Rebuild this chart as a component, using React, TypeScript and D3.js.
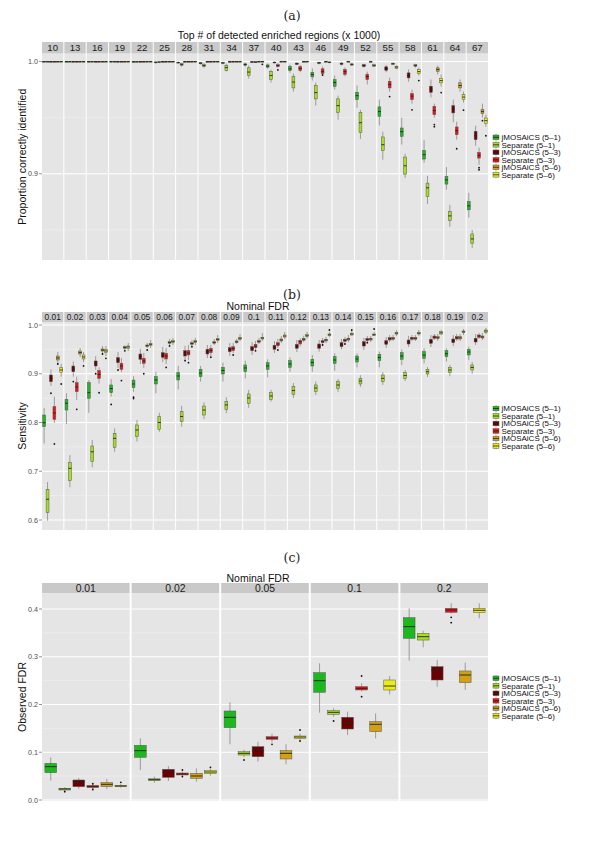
import React from "react";
import * as d3 from "d3";

// ---------- shared ----------
const SERIES = ["jMOSAiCS (5–1)", "Separate (5–1)", "jMOSAiCS (5–3)", "Separate (5–3)", "jMOSAiCS (5–6)", "Separate (5–6)"];
const COLORS = ["#1db81d", "#a6df1c", "#6b0000", "#ee1111", "#d1a014", "#ecec14"];

// ---------- panel (a): stats [lower whisker, q1, median, q3, upper whisker] ----------
const A_FACETS = ["10", "13", "16", "19", "22", "25", "28", "31", "34", "37", "40", "43", "46", "49", "52", "55", "58", "61", "64", "67"];
const ONE = [0.9995, 1, 1, 1, 1];
const A_JM51 = [ONE, ONE, ONE, [0.9993, 0.9998, 1, 1, 1], [0.999, 0.9996, 0.9998, 1, 1], [0.998, 0.999, 0.9993, 0.9996, 1],
  [0.9978, 0.9987, 0.999, 0.9994, 1], [0.9972, 0.998, 0.9985, 0.999, 0.9996], [0.9975, 0.9983, 0.9988, 0.9992, 0.9998],
  [0.9955, 0.9966, 0.9973, 0.998, 0.999], [0.9935, 0.995, 0.9958, 0.997, 0.9982], [0.99, 0.992, 0.9935, 0.9958, 0.9972],
  [0.983, 0.9863, 0.9884, 0.9904, 0.9938], [0.975, 0.9779, 0.9813, 0.9839, 0.9875], [0.9589, 0.9661, 0.9696, 0.9726, 0.9786],
  [0.943, 0.9512, 0.9554, 0.9596, 0.966], [0.926, 0.9333, 0.9375, 0.9408, 0.95], [0.91, 0.9131, 0.917, 0.9208, 0.93],
  [0.886, 0.8908, 0.8946, 0.8976, 0.906], [0.861, 0.8679, 0.8714, 0.8753, 0.883]];
const A_SEP51 = [ONE, ONE, ONE, [0.9993, 0.9998, 1, 1, 1], [0.999, 0.9996, 0.9998, 1, 1], [0.9985, 0.9992, 0.9995, 0.9998, 1],
  [0.9955, 0.9964, 0.9973, 0.9982, 0.999], [0.9944, 0.9955, 0.9964, 0.9972, 0.9985], [0.991, 0.9922, 0.9946, 0.9967, 0.998],
  [0.9848, 0.9875, 0.9906, 0.9944, 0.9964], [0.9813, 0.9839, 0.9875, 0.9913, 0.9929], [0.9732, 0.9765, 0.9817, 0.9869, 0.9893],
  [0.9607, 0.9667, 0.9723, 0.9786, 0.9813], [0.9482, 0.9547, 0.9607, 0.9667, 0.9696], [0.931, 0.9369, 0.9455, 0.9545, 0.957],
  [0.9125, 0.9208, 0.9259, 0.9328, 0.9375], [0.8964, 0.8997, 0.9071, 0.9149, 0.9179], [0.8732, 0.8797, 0.8875, 0.8917, 0.8982],
  [0.8527, 0.8583, 0.8625, 0.8663, 0.8723], [0.834, 0.8381, 0.842, 0.8464, 0.85]];
const A_JM53 = [ONE, ONE, ONE, ONE, ONE, ONE, ONE, ONE, [0.9993, 0.9998, 1, 1, 1], [0.999, 0.9994, 0.9996, 0.9999, 1],
  [0.9982, 0.9988, 0.9991, 0.9995, 1], [0.9968, 0.9975, 0.998, 0.9986, 0.9993], [0.9975, 0.9984, 0.9988, 0.9992, 0.9998],
  [0.9965, 0.9975, 0.998, 0.9986, 0.9994], [0.9945, 0.9955, 0.9964, 0.9972, 0.998], [0.9905, 0.9922, 0.9937, 0.9953, 0.997],
  [0.9821, 0.9854, 0.9875, 0.9899, 0.9929], [0.968, 0.9726, 0.9754, 0.978, 0.984], [0.946, 0.9542, 0.9576, 0.9607, 0.966],
  [0.925, 0.9304, 0.9339, 0.9378, 0.9429]];
const A_SEP53 = [ONE, ONE, ONE, ONE, ONE, ONE, ONE, ONE, [0.9993, 0.9998, 1, 1, 1], [0.9988, 0.9992, 0.9995, 0.9998, 1],
  [0.9945, 0.9955, 0.9964, 0.9972, 0.9985], [0.9905, 0.992, 0.9938, 0.9955, 0.997], [0.9875, 0.9893, 0.991, 0.9935, 0.9955],
  [0.9868, 0.9884, 0.991, 0.9929, 0.9948], [0.9795, 0.9839, 0.9866, 0.9887, 0.991], [0.973, 0.9765, 0.9795, 0.9824, 0.9857],
  [0.9625, 0.9661, 0.9692, 0.9714, 0.975], [0.95, 0.9527, 0.9563, 0.9601, 0.9625], [0.9304, 0.9348, 0.9384, 0.9417, 0.9464],
  [0.908, 0.914, 0.9165, 0.919, 0.9232]];
const A_JM56 = [ONE, ONE, ONE, ONE, ONE, ONE, ONE, ONE, ONE, ONE, ONE, ONE, ONE, ONE, [0.9993, 0.9997, 0.9999, 1, 1],
  [0.9968, 0.9975, 0.998, 0.9985, 0.9992], [0.9945, 0.9958, 0.9964, 0.9972, 0.998], [0.9884, 0.9913, 0.9929, 0.9944, 0.9964],
  [0.973, 0.9765, 0.9786, 0.981, 0.984], [0.95, 0.9536, 0.9554, 0.9571, 0.9625]];
const A_SEP56 = [ONE, ONE, ONE, ONE, ONE, ONE, ONE, ONE, ONE, ONE, ONE, ONE, [0.9985, 0.999, 0.9993, 0.9996, 1],
  [0.9962, 0.9968, 0.9973, 0.998, 0.9988], [0.995, 0.9958, 0.9964, 0.9972, 0.998], [0.9932, 0.994, 0.995, 0.9958, 0.9966],
  [0.9875, 0.9893, 0.991, 0.9929, 0.9945], [0.9777, 0.981, 0.983, 0.9848, 0.9884], [0.9634, 0.9661, 0.9683, 0.9705, 0.9732],
  [0.942, 0.9446, 0.9473, 0.9497, 0.9527]];
// [facet index, series index, value]
const A_OUTLIERS = [[12, 3, 0.988], [15, 3, 0.9688], [16, 3, 0.957], [17, 3, 0.9438], [17, 3, 0.942], [18, 3, 0.9223],
  [19, 3, 0.9054], [19, 3, 0.9036], [19, 4, 0.9473], [16, 5, 0.983], [17, 5, 0.9723], [18, 5, 0.9567], [19, 5, 0.9339],
  [10, 3, 0.9925], [9, 5, 0.9975]];

// ---------- panel (b) ----------
const B_FACETS = ["0.01", "0.02", "0.03", "0.04", "0.05", "0.06", "0.07", "0.08", "0.09", "0.1", "0.11", "0.12", "0.13", "0.14", "0.15", "0.16", "0.17", "0.18", "0.19", "0.2"];
const B_JM51 = [[0.757, 0.7914, 0.7995, 0.8154, 0.83], [0.797, 0.8256, 0.8394, 0.8476, 0.86], [0.82, 0.8496, 0.8611, 0.8817, 0.887],
  [0.853, 0.8611, 0.8697, 0.877, 0.889], [0.863, 0.8714, 0.879, 0.887, 0.895], [0.86, 0.879, 0.8872, 0.894, 0.904],
  [0.868, 0.8872, 0.8954, 0.9022, 0.916], [0.884, 0.894, 0.9015, 0.9091, 0.916], [0.884, 0.8995, 0.9067, 0.9132, 0.9227],
  [0.8906, 0.9042, 0.9118, 0.918, 0.9268], [0.8927, 0.9091, 0.9159, 0.9227, 0.9296], [0.904, 0.9132, 0.92, 0.9268, 0.9337],
  [0.904, 0.9159, 0.9231, 0.9296, 0.9385], [0.906, 0.9214, 0.9282, 0.935, 0.942], [0.913, 0.9241, 0.9303, 0.9364, 0.942],
  [0.913, 0.9268, 0.9333, 0.9399, 0.9453], [0.918, 0.9296, 0.9364, 0.9432, 0.95], [0.9214, 0.9317, 0.9385, 0.9453, 0.9522],
  [0.925, 0.935, 0.9411, 0.9473, 0.952], [0.928, 0.9385, 0.9446, 0.95, 0.9555]];
const B_SEP51 = [[0.5986, 0.615, 0.6425, 0.663, 0.678], [0.667, 0.6807, 0.706, 0.7176, 0.733], [0.708, 0.7196, 0.74, 0.7518, 0.764],
  [0.74, 0.749, 0.7675, 0.7778, 0.788], [0.761, 0.7709, 0.7846, 0.7949, 0.805], [0.781, 0.786, 0.8, 0.812, 0.82],
  [0.791, 0.8017, 0.8123, 0.8222, 0.834], [0.807, 0.8154, 0.8256, 0.8338, 0.841], [0.819, 0.8271, 0.836, 0.8427, 0.852],
  [0.83, 0.8394, 0.8503, 0.8585, 0.867], [0.843, 0.8476, 0.8544, 0.8611, 0.867], [0.85, 0.8578, 0.8656, 0.8735, 0.881],
  [0.8564, 0.8632, 0.8708, 0.877, 0.884], [0.863, 0.8701, 0.8769, 0.8837, 0.889], [0.873, 0.879, 0.8851, 0.8906, 0.897],
  [0.877, 0.8837, 0.8906, 0.8974, 0.9036], [0.8851, 0.8906, 0.8964, 0.9022, 0.9077], [0.8933, 0.8995, 0.9042, 0.9091, 0.9138],
  [0.895, 0.9022, 0.9077, 0.9132, 0.918], [0.9, 0.9077, 0.9128, 0.918, 0.924]];
const B_JM53 = [[0.875, 0.8837, 0.8913, 0.8974, 0.909], [0.894, 0.9042, 0.9097, 0.9159, 0.925], [0.908, 0.9159, 0.922, 0.9262, 0.936],
  [0.912, 0.9227, 0.9282, 0.933, 0.9446], [0.92, 0.9296, 0.935, 0.9405, 0.9508], [0.9241, 0.9337, 0.9385, 0.9432, 0.9549],
  [0.928, 0.9364, 0.9426, 0.9473, 0.957], [0.9323, 0.9405, 0.9456, 0.9502, 0.959], [0.9364, 0.9453, 0.9497, 0.9534, 0.9631],
  [0.9385, 0.9473, 0.9518, 0.9555, 0.9651], [0.9426, 0.9502, 0.9542, 0.9584, 0.9672], [0.9446, 0.9522, 0.9563, 0.9604, 0.9692],
  [0.9452, 0.9522, 0.9569, 0.961, 0.9692], [0.9502, 0.9555, 0.96, 0.9637, 0.9713], [0.9487, 0.9569, 0.961, 0.9657, 0.9733],
  [0.9528, 0.9604, 0.9641, 0.9678, 0.9754], [0.9549, 0.961, 0.9651, 0.9692, 0.9774], [0.9549, 0.9625, 0.9665, 0.9707, 0.9795],
  [0.9569, 0.9637, 0.9676, 0.9713, 0.9795], [0.959, 0.9651, 0.9692, 0.9727, 0.9815]];
const B_SEP53 = [[0.799, 0.8065, 0.8195, 0.8324, 0.853], [0.846, 0.8632, 0.873, 0.8817, 0.894], [0.88, 0.8906, 0.8985, 0.9063, 0.913],
  [0.903, 0.9091, 0.9159, 0.9214, 0.932], [0.912, 0.9214, 0.9262, 0.9317, 0.9426], [0.92, 0.9303, 0.9364, 0.942, 0.9528],
  [0.928, 0.9385, 0.9426, 0.9473, 0.959], [0.9364, 0.9432, 0.9477, 0.9522, 0.959], [0.9426, 0.9473, 0.9518, 0.9555, 0.9631],
  [0.9487, 0.9534, 0.9569, 0.9604, 0.9672], [0.9528, 0.9575, 0.961, 0.9637, 0.9713], [0.956, 0.9611, 0.9658, 0.9686, 0.973],
  [0.959, 0.9637, 0.9658, 0.9678, 0.9733], [0.9631, 0.9666, 0.9686, 0.9707, 0.9754], [0.9631, 0.9678, 0.9703, 0.9727, 0.9774],
  [0.9651, 0.9692, 0.9717, 0.974, 0.9795], [0.9672, 0.9707, 0.9727, 0.9748, 0.9795], [0.9692, 0.9727, 0.975, 0.9774, 0.9815],
  [0.9672, 0.9713, 0.9737, 0.976, 0.9815], [0.9713, 0.9748, 0.9774, 0.9795, 0.9836]];
const B_JM56 = [[0.92, 0.9282, 0.9323, 0.9364, 0.9446], [0.9344, 0.9405, 0.9436, 0.9467, 0.9528], [0.9426, 0.9467, 0.9487, 0.9508, 0.9569],
  [0.9487, 0.9522, 0.9538, 0.9555, 0.959], [0.9528, 0.9555, 0.9576, 0.959, 0.9631], [0.959, 0.9625, 0.964, 0.9657, 0.9713],
  [0.9569, 0.9604, 0.962, 0.9637, 0.9692], [0.959, 0.9625, 0.964, 0.9657, 0.9713], [0.961, 0.9637, 0.9655, 0.9672, 0.9713],
  [0.961, 0.9645, 0.9662, 0.9678, 0.9733], [0.9631, 0.9672, 0.9692, 0.9713, 0.9774], [0.965, 0.9685, 0.9707, 0.9727, 0.978],
  [0.9631, 0.9672, 0.9692, 0.9707, 0.9754], [0.9651, 0.9692, 0.9713, 0.9727, 0.9795], [0.9651, 0.9692, 0.9713, 0.9727, 0.9774],
  [0.9672, 0.9707, 0.9727, 0.9748, 0.9795], [0.9672, 0.9707, 0.9727, 0.9748, 0.9795], [0.9672, 0.9719, 0.974, 0.976, 0.9815],
  [0.9672, 0.9713, 0.9737, 0.976, 0.9815], [0.9692, 0.9733, 0.9754, 0.9774, 0.9836]];
const B_SEP56 = [[0.894, 0.9022, 0.9077, 0.9132, 0.92], [0.924, 0.9303, 0.9344, 0.9385, 0.9446], [0.9364, 0.9432, 0.9467, 0.9493, 0.9569],
  [0.9467, 0.9522, 0.955, 0.9569, 0.9631], [0.9528, 0.9584, 0.9604, 0.9625, 0.9692], [0.959, 0.9637, 0.9658, 0.9678, 0.9733],
  [0.959, 0.9637, 0.9658, 0.9678, 0.9733], [0.9631, 0.9678, 0.9703, 0.9727, 0.9795], [0.9672, 0.9707, 0.9727, 0.9748, 0.9815],
  [0.9672, 0.9713, 0.9733, 0.9748, 0.9836], [0.9713, 0.9754, 0.9774, 0.9795, 0.9856], [0.972, 0.976, 0.978, 0.98, 0.986],
  [0.9754, 0.978, 0.9799, 0.9815, 0.9856], [0.9774, 0.9795, 0.9815, 0.983, 0.9877], [0.9774, 0.9789, 0.98, 0.9815, 0.9856],
  [0.9774, 0.9815, 0.9832, 0.985, 0.9897], [0.9774, 0.9815, 0.9832, 0.985, 0.9897], [0.9795, 0.9815, 0.984, 0.9863, 0.9897],
  [0.9795, 0.9842, 0.986, 0.9877, 0.9918], [0.9815, 0.985, 0.9877, 0.9897, 0.9938]];
const B_OUTLIERS = [[0, 2, 0.86], [0, 3, 0.756], [0, 4, 0.92], [0, 5, 0.879], [1, 2, 0.884], [1, 3, 0.827], [1, 5, 0.916],
  [2, 2, 0.9], [2, 3, 0.861], [2, 4, 0.9405], [2, 5, 0.9316], [3, 0, 0.837], [3, 2, 0.9077], [3, 3, 0.886], [3, 4, 0.947],
  [4, 0, 0.852], [4, 0, 0.849], [4, 3, 0.9], [4, 4, 0.9487], [5, 3, 0.913], [5, 4, 0.957], [6, 2, 0.9268], [6, 3, 0.9227],
  [6, 4, 0.9555], [7, 3, 0.934], [8, 3, 0.9385], [9, 3, 0.947], [10, 3, 0.9487], [12, 3, 0.959], [12, 5, 0.9897],
  [13, 3, 0.961], [13, 5, 0.9897], [14, 3, 0.9637], [14, 5, 0.9918]];

// ---------- panel (c) ----------
const C_FACETS = ["0.01", "0.02", "0.05", "0.1", "0.2"];
const C_JM51 = [[0.0405, 0.0572, 0.0698, 0.0768, 0.0894], [0.0628, 0.0894, 0.1033, 0.1146, 0.129], [0.1166, 0.1515, 0.1731, 0.1864, 0.2045],
  [0.1829, 0.2256, 0.2498, 0.2666, 0.2863], [0.2918, 0.3386, 0.363, 0.3818, 0.4014]];
const C_SEP51 = [[0.0168, 0.0209, 0.023, 0.0245, 0.027], [0.036, 0.0405, 0.0426, 0.0444, 0.049], [0.09, 0.0942, 0.0977, 0.1012, 0.105],
  [0.1745, 0.1795, 0.1836, 0.187, 0.192], [0.3197, 0.335, 0.342, 0.349, 0.3546]];
const C_JM53 = [[0.0237, 0.0279, 0.0377, 0.0419, 0.046], [0.0398, 0.0475, 0.0586, 0.0643, 0.071], [0.0803, 0.0907, 0.1033, 0.1117, 0.122],
  [0.136, 0.1487, 0.1619, 0.1732, 0.185], [0.2373, 0.2513, 0.2722, 0.2792, 0.2932]];
const C_SEP53 = [[0.023, 0.0265, 0.0279, 0.0307, 0.0335], [0.049, 0.0524, 0.0545, 0.0565, 0.0593], [0.121, 0.1271, 0.1298, 0.1326, 0.139],
  [0.2276, 0.2304, 0.2339, 0.2373, 0.2443], [0.3905, 0.393, 0.3979, 0.4014, 0.412]];
const C_JM56 = [[0.023, 0.0279, 0.0328, 0.0362, 0.044], [0.0384, 0.0454, 0.0503, 0.0559, 0.0663], [0.0747, 0.0859, 0.0977, 0.1033, 0.1166],
  [0.129, 0.143, 0.1585, 0.164, 0.1815], [0.2304, 0.2457, 0.2618, 0.2702, 0.2876]];
const C_SEP56 = [[0.026, 0.0279, 0.0293, 0.0307, 0.0335], [0.0509, 0.0551, 0.0586, 0.0614, 0.0656], [0.126, 0.1292, 0.1319, 0.134, 0.139],
  [0.2213, 0.2304, 0.2387, 0.2513, 0.2597], [0.3805, 0.3923, 0.3973, 0.4014, 0.412]];
const C_OUTLIERS = [[0, 1, 0.0175], [0, 3, 0.034], [0, 3, 0.022], [0, 5, 0.037], [1, 3, 0.0628], [1, 3, 0.049], [1, 5, 0.0684],
  [2, 1, 0.0838], [2, 3, 0.1166], [2, 5, 0.1466], [2, 5, 0.1236], [3, 1, 0.1654], [3, 3, 0.2597], [3, 3, 0.2164],
  [4, 3, 0.3826], [4, 3, 0.3713]];

// ---------- layout ----------
const X0 = 42, X1 = 488;
const FONT = "'Liberation Sans', Arial, Helvetica, sans-serif";

const PANELS = [
  { key: "a", letter: "(a)", letterY: 20, title: "Top # of detected enriched regions (x 1000)", titleX: 279, titleY: 39,
    facets: A_FACETS, series: [A_JM51, A_SEP51, A_JM53, A_SEP53, A_JM56, A_SEP56], outliers: A_OUTLIERS,
    stripTop: 42, top: 53.5, bottom: 260, domain: [0.82321, 1.00714], majors: [0.9, 1.0], minors: [0.85, 0.95],
    gap: 1, stripFont: 9.6, axisTitle: "Proportion correctly identified", legendY: 137.3 },
  { key: "b", letter: "(b)", letterY: 299, title: "Nominal FDR", titleX: 258, titleY: 310,
    facets: B_FACETS, series: [B_JM51, B_SEP51, B_JM53, B_SEP53, B_JM56, B_SEP56], outliers: B_OUTLIERS,
    stripTop: 312, top: 322, bottom: 530, domain: [0.5795, 1.00615], majors: [0.6, 0.7, 0.8, 0.9, 1.0], minors: [0.65, 0.75, 0.85, 0.95],
    gap: 1, stripFont: 8.4, axisTitle: "Sensitivity", legendY: 408.5 },
  { key: "c", letter: "(c)", letterY: 562, title: "Nominal FDR", titleX: 258, titleY: 582,
    facets: C_FACETS, series: [C_JM51, C_SEP51, C_JM53, C_SEP53, C_JM56, C_SEP56], outliers: C_OUTLIERS,
    stripTop: 583, top: 593, bottom: 801, domain: [-0.0021, 0.4335], majors: [0, 0.1, 0.2, 0.3, 0.4], minors: [0.05, 0.15, 0.25, 0.35],
    gap: 2, stripFont: 10.4, axisTitle: "Observed FDR", legendY: 678.3 },
];

function Panel({ p }: { p: any }) {
  const n = p.facets.length;
  const step = (X1 - X0 + p.gap) / n;
  const fx = d3.scaleBand().domain(p.facets).range([X0, X1]).paddingInner(p.gap / step).paddingOuter(0);
  const w = fx.bandwidth();
  const sx = d3.scalePoint().domain(SERIES).range([0.1 * w, 0.9 * w]);
  const bw = 0.134 * w;
  const y = d3.scaleLinear().domain(p.domain).range([p.bottom, p.top]);
  const fmt = d3.format(".1f");
  const legendStep = 7.5;

  return (
    <g>
      <text x={292} y={p.letterY} textAnchor="middle" fontFamily="'DejaVu Serif', 'Liberation Serif', serif" fontSize={12.5} fill="#222">{p.letter}</text>
      <text x={p.titleX} y={p.titleY} textAnchor="middle" fontFamily={FONT} fontSize={10.5} fill="#111">{p.title}</text>
      {p.facets.map((f: string) => {
        const x = fx(f) as number;
        return (
          <g key={f}>
            <rect x={x} y={p.top} width={w} height={p.bottom - p.top} fill="#e5e5e5" />
            {p.minors.map((m: number) => (
              <line key={"mi" + m} x1={x} x2={x + w} y1={y(m)} y2={y(m)} stroke="#f2f2f2" strokeWidth={0.6} />
            ))}
            {p.majors.map((m: number) => (
              <line key={"ma" + m} x1={x} x2={x + w} y1={y(m)} y2={y(m)} stroke="#ffffff" strokeWidth={1.1} />
            ))}
            <rect x={x} y={p.stripTop} width={w} height={p.top - p.stripTop} fill="#c9c9c9" />
            <text x={x + w / 2} y={(p.stripTop + p.top) / 2} dy="0.36em" textAnchor="middle" fontFamily={FONT} fontSize={p.stripFont} fill="#1a1a1a">{f}</text>
          </g>
        );
      })}
      {p.series.map((ser: number[][], si: number) =>
        ser.map((s, fi) => {
          const cx = (fx(p.facets[fi]) as number) + (sx(SERIES[si]) as number);
          const yq3 = y(s[3]);
          const yq1 = y(s[1]);
          const h = Math.max(yq1 - yq3, 0.8);
          return (
            <g key={si + "-" + fi}>
              <line x1={cx} x2={cx} y1={y(s[0])} y2={y(s[4])} stroke="#6a6a6a" strokeWidth={0.6} />
              <rect x={cx - bw / 2} y={yq3} width={bw} height={h} fill={COLORS[si]} stroke="#555" strokeWidth={0.5} />
              <line x1={cx - bw / 2} x2={cx + bw / 2} y1={y(s[2])} y2={y(s[2])} stroke="#222" strokeWidth={0.9} />
            </g>
          );
        })
      )}
      {p.outliers.map((o: number[], i: number) => (
        <circle key={"o" + i} cx={(fx(p.facets[o[0]]) as number) + (sx(SERIES[o[1]]) as number)} cy={y(o[2])} r={0.9} fill="#111" />
      ))}
      {p.majors.map((m: number) => (
        <g key={"t" + m}>
          <line x1={X0 - 3} x2={X0} y1={y(m)} y2={y(m)} stroke="#4d4d4d" strokeWidth={0.6} />
          <text x={X0 - 4} y={y(m)} dy="0.35em" textAnchor="end" fontFamily={FONT} fontSize={7.2} fill="#4d4d4d">{fmt(m)}</text>
        </g>
      ))}
      <text transform={`translate(22,${(p.top + p.bottom) / 2}) rotate(-90)`} textAnchor="middle" dy="0.35em" fontFamily={FONT} fontSize={10.5} fill="#111">{p.axisTitle}</text>
      {SERIES.map((name, i) => {
        const cy = p.legendY + i * legendStep;
        return (
          <g key={"lg" + i}>
            <line x1={496} x2={496} y1={cy - 3.4} y2={cy + 3.4} stroke="#6a6a6a" strokeWidth={0.6} />
            <rect x={493} y={cy - 2.3} width={6} height={4.6} fill={COLORS[i]} stroke="#555" strokeWidth={0.5} />
            <line x1={493} x2={499} y1={cy} y2={cy} stroke="#222" strokeWidth={0.8} />
            <text x={501.5} y={cy} dy="0.35em" fontFamily={FONT} fontSize={8} fill="#111">{name}</text>
          </g>
        );
      })}
    </g>
  );
}

export default function App() {
  return (
    <svg width={600} height={842} style={{ position: "absolute", left: 0, top: 0, background: "#fff" }}>
      <rect width={600} height={842} fill="#fff" />
      {PANELS.map((p) => <Panel key={p.key} p={p} />)}
    </svg>
  );
}
